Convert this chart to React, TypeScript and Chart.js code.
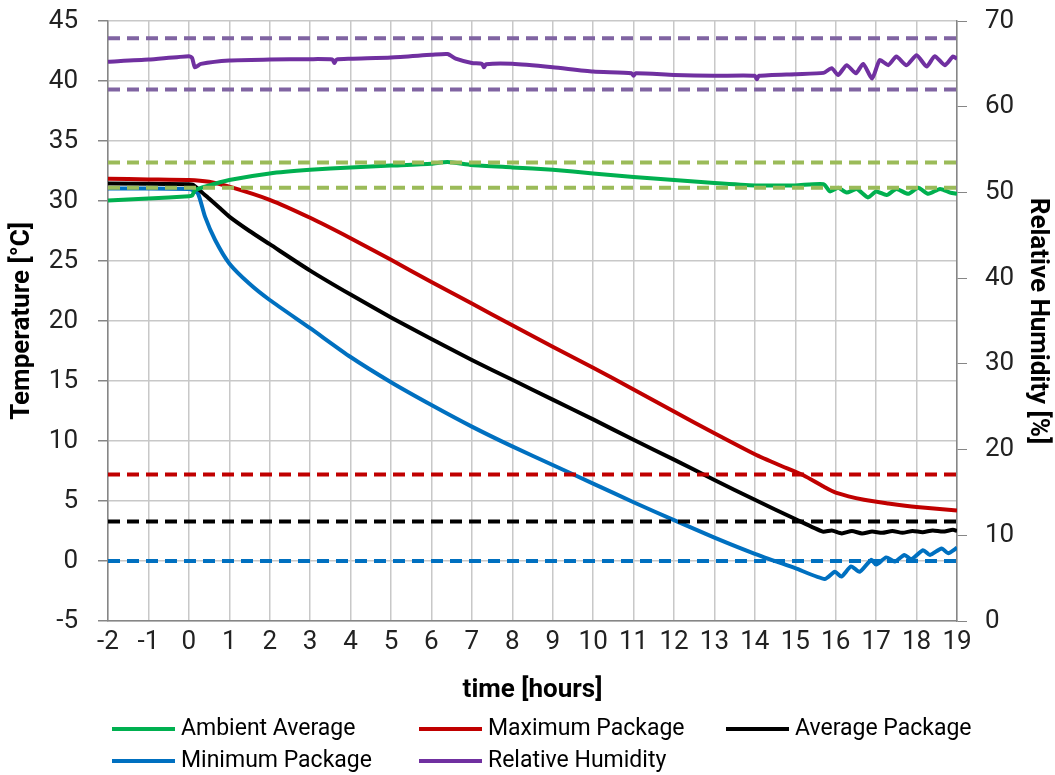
import React, { useEffect, useRef } from 'react';
import { Chart, registerables } from 'chart.js';

Chart.register(...registerables);

const FONT = 'Roboto, "Liberation Sans", sans-serif';

const X_MIN = -2;
const X_MAX = 19;

// Ambient Average (°C)
const ambientT = [-2, -1, 0, 0.08, 0.15, 0.4, 1, 2, 3, 4, 5, 6, 6.4, 7, 8, 9, 10, 11, 12, 13, 14, 15, 15.7, 15.86, 16.06, 16.27, 16.52, 16.8, 17.0, 17.26, 17.5, 17.79, 18.04, 18.29, 18.58, 18.83, 19.0];
const ambientV = [30.05, 30.2, 30.4, 30.45, 30.9, 31.2, 31.75, 32.3, 32.6, 32.8, 32.95, 33.1, 33.25, 33.0, 32.8, 32.6, 32.3, 32.0, 31.75, 31.5, 31.3, 31.3, 31.4, 30.8, 31.1, 30.7, 31.0, 30.3, 30.8, 30.5, 31.0, 30.6, 31.1, 30.6, 31.0, 30.7, 30.6];

// Maximum Package (°C)
const maxT = [-2, -1, 0, 0.5, 1, 2, 3, 4, 5, 6, 7, 8, 9, 10, 11, 12, 13, 14, 14.6, 15.2, 15.7, 16.0, 16.7, 17.3, 18, 19];
const maxV = [31.85, 31.8, 31.75, 31.6, 31.2, 30.1, 28.6, 26.9, 25.1, 23.25, 21.45, 19.65, 17.85, 16.1, 14.3, 12.45, 10.65, 8.9, 8.0, 7.15, 6.2, 5.7, 5.1, 4.8, 4.5, 4.2];

// Average Package (°C)
const avgT = [-2, 0, 0.1, 0.3, 0.5, 0.75, 1, 1.5, 2, 3, 4, 5, 6, 7, 8, 9, 10, 11, 12, 13, 14, 15, 15.68, 15.9, 16.15, 16.4, 16.65, 16.9, 17.15, 17.4, 17.65, 17.9, 18.15, 18.4, 18.65, 18.9, 19];
const avgV = [31.45, 31.4, 31.35, 30.8, 30.2, 29.45, 28.7, 27.5, 26.4, 24.2, 22.2, 20.3, 18.5, 16.75, 15.1, 13.45, 11.8, 10.1, 8.45, 6.75, 5.1, 3.5, 2.45, 2.55, 2.3, 2.5, 2.3, 2.45, 2.35, 2.5, 2.35, 2.5, 2.4, 2.55, 2.45, 2.6, 2.5];

// Minimum Package (°C)
const minT = [-2, 0, 0.1, 0.23, 0.4, 0.65, 1, 1.5, 2, 3, 4, 5, 6, 7, 8, 9, 10, 11, 12, 13, 14, 15, 15.73, 15.98, 16.14, 16.38, 16.59, 16.88, 17.0, 17.25, 17.46, 17.7, 17.87, 18.16, 18.33, 18.62, 18.78, 19];
const minV = [31.05, 31.0, 30.9, 30.6, 28.7, 26.75, 24.8, 23.1, 21.75, 19.4, 17.0, 14.9, 13.0, 11.2, 9.55, 8.0, 6.45, 4.9, 3.4, 1.95, 0.6, -0.6, -1.5, -0.9, -1.3, -0.45, -0.9, 0.1, -0.3, 0.3, -0.05, 0.5, 0.15, 0.9, 0.5, 1.05, 0.65, 1.1];

// Relative Humidity (%)
const rhT = [-2, -1, 0, 0.08, 0.15, 0.3, 1, 2, 3, 3.55, 3.6, 3.65, 4, 5, 6, 6.4, 6.6, 7, 7.25, 7.3, 7.35, 8, 9, 10, 10.95, 11, 11.05, 12, 13, 14, 14.05, 14.1, 15, 15.7, 15.9, 16.06, 16.27, 16.5, 16.68, 16.9, 17.09, 17.3, 17.5, 17.75, 18, 18.25, 18.45, 18.7, 18.9, 19];
const rhV = [65.25, 65.5, 65.9, 65.7, 64.6, 65.0, 65.4, 65.5, 65.55, 65.5, 65.1, 65.5, 65.6, 65.75, 66.05, 66.15, 65.6, 65.1, 65.0, 64.6, 64.95, 65.0, 64.6, 64.1, 63.9, 63.6, 63.9, 63.7, 63.6, 63.6, 63.2, 63.6, 63.8, 63.95, 64.5, 63.7, 64.85, 63.9, 65.0, 63.3, 65.45, 64.85, 65.85, 64.85, 66.0, 64.7, 65.9, 64.85, 65.85, 65.6];

// Limit lines
const rhLimits = [68, 62];
const ambientLimits = [33.2, 31.1];
const maxLimit = 7.2;
const avgLimit = 3.3;
const minLimit = 0;

const pts = (t: number[], v: number[]) => t.map((x, i) => ({ x, y: v[i] }));
const hline = (y: number) => [{ x: X_MIN, y }, { x: X_MAX, y }];

const GREEN = '#00B050';
const RED = '#C00000';
const BLACK = '#000000';
const BLUE = '#0070C0';
const PURPLE = '#7030A0';
const PURPLE_D = '#8064A2';
const GREEN_D = '#9BBB59';

const legendPlugin = {
  id: 'customLegend',
  afterDraw(chart: any) {
    const ctx = chart.ctx;
    const cols = [112, 419, 726];
    const rows = [729, 761];
    const items = chart.data.datasets.filter((d: any) => d.inLegend);
    items.forEach((d: any, i: number) => {
      const x = cols[i % 3];
      const y = rows[Math.floor(i / 3)];
      ctx.save();
      ctx.strokeStyle = d.borderColor;
      ctx.lineWidth = 4;
      ctx.beginPath();
      ctx.moveTo(x, y);
      ctx.lineTo(x + 63, y);
      ctx.stroke();
      ctx.fillStyle = '#000';
      ctx.font = `23px ${FONT}`;
      ctx.textBaseline = 'middle';
      ctx.textAlign = 'left';
      ctx.fillText(d.label, x + 69, y);
      ctx.restore();
    });
  },
};

export default function App() {
  const ref = useRef<HTMLCanvasElement>(null);
  useEffect(() => {
    if (!ref.current) return;
    const dashed = (label: string, data: any[], color: string, axis = 'y') => ({
      label,
      data,
      borderColor: color,
      backgroundColor: color,
      borderWidth: 4,
      borderDash: [12, 7],
      pointRadius: 0,
      yAxisID: axis,
      inLegend: false,
    });
    const solid = (label: string, data: any[], color: string, axis = 'y') => ({
      label,
      data,
      borderColor: color,
      backgroundColor: color,
      borderWidth: 4,
      pointRadius: 0,
      tension: 0.2,
      yAxisID: axis,
      inLegend: true,
    });
    const fitV = (w: number) => (s: any) => {
      s.width = w;
      s.paddingTop = 8;
      s.paddingBottom = 8;
    };
    const chart = new Chart(ref.current, {
      type: 'line',
      data: {
        datasets: [
          dashed('RH upper', hline(rhLimits[0]), PURPLE_D, 'y1'),
          dashed('RH lower', hline(rhLimits[1]), PURPLE_D, 'y1'),
          dashed('Ambient upper', hline(ambientLimits[0]), GREEN_D),
          dashed('Ambient lower', hline(ambientLimits[1]), GREEN_D),
          dashed('Max limit', hline(maxLimit), RED),
          dashed('Avg limit', hline(avgLimit), BLACK),
          dashed('Min limit', hline(minLimit), BLUE),
          solid('Ambient Average', pts(ambientT, ambientV), GREEN),
          solid('Maximum Package', pts(maxT, maxV), RED),
          solid('Average Package', pts(avgT, avgV), BLACK),
          solid('Minimum Package', pts(minT, minV), BLUE),
          solid('Relative Humidity', pts(rhT, rhV), PURPLE, 'y1'),
        ] as any,
      },
      options: {
        animation: false,
        responsive: false,
        maintainAspectRatio: false,
        layout: { padding: { top: 21, bottom: 63, left: 0, right: 0 } },
        plugins: { legend: { display: false }, tooltip: { enabled: false } },
        scales: {
          x: {
            type: 'linear',
            min: X_MIN,
            max: X_MAX,
            ticks: { stepSize: 1, autoSkip: false, maxRotation: 0, color: '#222', padding: 6, font: { size: 26, family: FONT } },
            grid: { color: '#C8C8C8', lineWidth: 1.5, drawTicks: false },
            border: { color: '#868686', width: 1.5 },
            title: { display: true, text: 'time [hours]', color: '#000', font: { size: 26, weight: 'bold', family: FONT }, padding: { top: 0, bottom: 6 } },
            afterFit: (s: any) => { s.height = 91; s.paddingLeft = 0; s.paddingRight = 0; },
          },
          y: {
            position: 'left',
            min: -5,
            max: 45,
            ticks: { stepSize: 5, color: '#222', padding: 20, font: { size: 26, family: FONT } },
            grid: { color: '#C8C8C8', lineWidth: 1.5, drawTicks: true, tickLength: 10, tickColor: '#868686' },
            border: { color: '#868686', width: 1.5 },
            title: { display: true, text: 'Temperature [°C]', color: '#000', font: { size: 26, weight: 'bold', family: FONT }, padding: { top: 7, bottom: 0 } },
            afterFit: fitV(108),
          },
          y1: {
            position: 'right',
            min: 0,
            max: 70,
            ticks: { stepSize: 10, color: '#222', padding: 18, font: { size: 26, family: FONT } },
            grid: { drawOnChartArea: false, drawTicks: true, tickLength: 10, color: '#868686', tickColor: '#868686' },
            border: { color: '#868686', width: 1.5 },
            title: { display: true, text: 'Relative Humidity [%]', color: '#000', font: { size: 26, weight: 'bold', family: FONT }, padding: { top: 2, bottom: 0 } },
            afterFit: fitV(98),
          },
        },
      } as any,
      plugins: [legendPlugin],
    });
    return () => chart.destroy();
  }, []);
  return (
    <div style={{ position: 'fixed', left: 0, top: 0, width: 1055, height: 775, background: '#fff' }}>
      <canvas ref={ref} width={1055} height={775} style={{ display: 'block' }} />
    </div>
  );
}
